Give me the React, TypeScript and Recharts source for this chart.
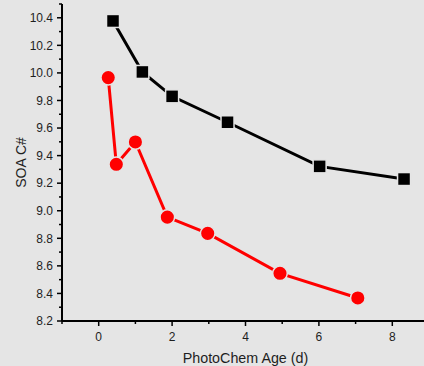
import React from 'react';
import { ScatterChart, Scatter, XAxis, YAxis, Label } from 'recharts';

const blackAge = [0.39, 1.19, 2.0, 3.51, 6.02, 8.32];
const blackC = [10.377, 10.007, 9.83, 9.642, 9.322, 9.23];
const redAge = [0.26, 0.48, 1.0, 1.87, 2.97, 4.94, 7.06];
const redC = [9.966, 9.337, 9.499, 8.954, 8.836, 8.546, 8.367];

const xTicks = [-1, 0, 1, 2, 3, 4, 5, 6, 7, 8, 9];
const xLabels = [0, 2, 4, 6, 8];
const yTicks = [8.2, 8.3, 8.4, 8.5, 8.6, 8.7, 8.8, 8.9, 9.0, 9.1, 9.2, 9.3, 9.4, 9.5, 9.6, 9.7, 9.8, 9.9, 10.0, 10.1, 10.2, 10.3, 10.4, 10.5];
const yLabels = ['8.2', '8.4', '8.6', '8.8', '9.0', '9.2', '9.4', '9.6', '9.8', '10.0', '10.2', '10.4'];

const blackData = blackAge.map((x, i) => ({ x, y: blackC[i] }));
const redData = redAge.map((x, i) => ({ x, y: redC[i] }));

const BG = '#e5e5e5';
const FONT = '"Liberation Sans", Arial, sans-serif';
const TXT = '#1e1e1e';

const XTick = (props: any) => {
  const { x, y, payload } = props;
  const v = payload.value;
  const major = xLabels.includes(v);
  return (
    <g>
      <line x1={x} x2={x} y1={y} y2={y + (major ? 5 : 3)} stroke="#000" strokeWidth={1.5} />
      {major && (
        <text x={x} y={y + 19.5} textAnchor="middle" fontSize={12} fontFamily={FONT} fill={TXT}>
          {v}
        </text>
      )}
    </g>
  );
};

const YTick = (props: any) => {
  const { x, y, payload } = props;
  const s = Number(payload.value).toFixed(1);
  const major = yLabels.includes(s);
  return (
    <g>
      <line x1={x} x2={x - (major ? 5 : 3)} y1={y} y2={y} stroke="#000" strokeWidth={1.5} />
      {major && (
        <text x={x - 9} y={y + 4.3} textAnchor="end" fontSize={12} fontFamily={FONT} fill={TXT}>
          {s}
        </text>
      )}
    </g>
  );
};

const Square = (props: any) => {
  const { cx, cy } = props;
  return <rect x={cx - 6.5} y={cy - 6.5} width={13} height={13} fill="#000" stroke={BG} strokeWidth={1.5} />;
};

const Dot = (props: any) => {
  const { cx, cy } = props;
  return <circle cx={cx} cy={cy} r={7.3} fill="#ff0000" stroke={BG} strokeWidth={1.5} />;
};

export default function App() {
  return (
    <div style={{ position: 'absolute', left: 0, top: 0, width: 424, height: 366, overflow: 'hidden', background: BG }}>
      <ScatterChart width={429} height={366} margin={{ top: 4, right: 0, bottom: 0, left: 0 }}>
        <XAxis
          type="number"
          dataKey="x"
          domain={[-1, 9]}
          ticks={xTicks}
          interval={0}
          height={45}
          tickSize={0}
          tickMargin={0}
          tickLine={false}
          tick={<XTick />}
          axisLine={{ stroke: '#000', strokeWidth: 2 }}
          allowDataOverflow
        >
          <Label
            content={() => (
              <text x={245.5} y={363} textAnchor="middle" fontSize={14.3} fontFamily={FONT} fill={TXT}>
                PhotoChem Age (d)
              </text>
            )}
          />
        </XAxis>
        <YAxis
          type="number"
          dataKey="y"
          domain={[8.2, 10.5]}
          ticks={yTicks}
          interval={0}
          width={62}
          tickSize={0}
          tickMargin={0}
          tickLine={false}
          tick={<YTick />}
          axisLine={{ stroke: '#000', strokeWidth: 2 }}
          allowDataOverflow
        >
          <Label
            content={() => (
              <text
                x={26}
                y={162.5}
                textAnchor="middle"
                fontSize={14}
                fontFamily={FONT}
                fill={TXT}
                transform="rotate(-90, 26, 162.5)"
              >
                SOA C#
              </text>
            )}
          />
        </YAxis>
        <Scatter
          data={redData}
          line={{ stroke: '#ff0000', strokeWidth: 3 }}
          lineType="joint"
          shape={<Dot />}
          isAnimationActive={false}
        />
        <Scatter
          data={blackData}
          line={{ stroke: '#000', strokeWidth: 3 }}
          lineType="joint"
          shape={<Square />}
          isAnimationActive={false}
        />
      </ScatterChart>
    </div>
  );
}
